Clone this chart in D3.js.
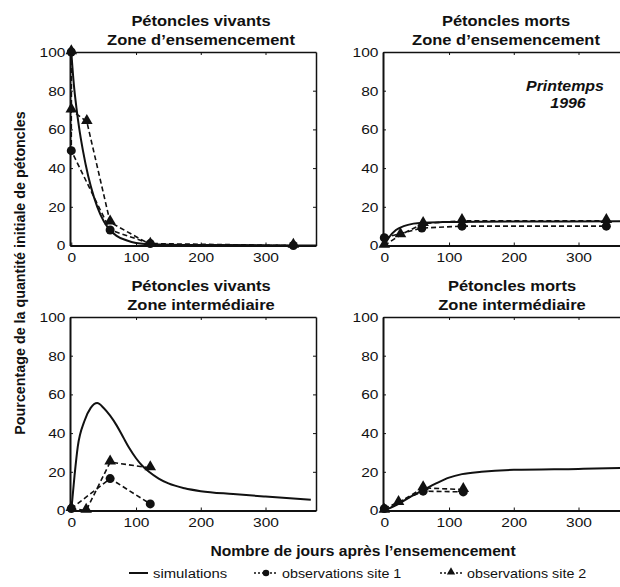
<!DOCTYPE html>
<html>
<head>
<meta charset="utf-8">
<script src="https://cdn.jsdelivr.net/npm/d3@7"></script>
<style>
  body { margin: 0; background: #fff; }
  svg { display: block; font-family: "Liberation Sans", Arial, sans-serif; }
</style>
</head>
<body>
<div id="chart"></div>
<script>
const W = 620, H = 587;

// [jour, pourcentage]
const vivEnsSim = [[0,100],[4,83],[8,71],[12,61],[18,49],[26,36],[35,25],[45,16],[57,9],[70,5],[85,2.7],[100,1.3],[130,0.5],[200,0.2],[378,0]];
const vivEnsSite1 = [[0,100],[0,49],[60,8],[122,1],[343,0]];
const vivEnsSite2 = [[0,100],[0,70],[24,64],[60,12],[122,0.5],[343,0]];

const mortEnsSim = [[0,0],[8,4.5],[18,8],[30,10],[45,11.3],[60,11.8],[90,12.1],[150,12.3],[250,12.4],[378,12.5]];
const mortEnsSite1 = [[0,4],[58,9],[120,10],[343,10]];
const mortEnsSite2 = [[0,0],[25,5.5],[60,11.3],[120,12.8],[343,12.8]];

const vivIntSim = [[0,0],[5,18],[10,33],[20,46],[30,53],[40,55.5],[50,53],[60,49],[70,44],[80,38],[90,32],[100,27],[110,23],[120,20],[135,16.5],[150,14],[175,11.5],[200,10],[250,8.5],[300,7.2],[370,5.5]];
const vivIntSite1 = [[0,1],[60,16.5],[122,3.4]];
const vivIntSite2 = [[0,1],[23,0],[60,25],[122,22]];

const mortIntSim = [[0,0],[20,3],[40,7],[60,10.5],[80,14],[100,17],[120,18.8],[150,20],[200,21],[300,21.5],[378,22]];
const mortIntSite1 = [[0,1],[60,10],[122,9.6]];
const mortIntSite2 = [[0,0],[22,4],[60,11.7],[122,10.8]];

const xTicks = [0, 100, 200, 300];
const yTicks = [0, 20, 40, 60, 80, 100];

const panels = [
  { title: ["Pétoncles vivants", "Zone d\u2019ensemencement"], sim: vivEnsSim, s1: vivEnsSite1, s2: vivEnsSite2, col: 0, row: 0, tx: 201 },
  { title: ["Pétoncles morts", "Zone d\u2019ensemencement"], sim: mortEnsSim, s1: mortEnsSite1, s2: mortEnsSite2, col: 1, row: 0, tx: 506 },
  { title: ["Pétoncles vivants", "Zone intermédiaire"], sim: vivIntSim, s1: vivIntSite1, s2: vivIntSite2, col: 0, row: 1, tx: 201 },
  { title: ["Pétoncles morts", "Zone intermédiaire"], sim: mortIntSim, s1: mortIntSite1, s2: mortIntSite2, col: 1, row: 1, tx: 512 }
];

const colX = [70, 383], rowY = [52, 317];
const pw = 246, ph = 193.5;
const ink = "#111";

const svg = d3.select("#chart").append("svg")
  .attr("width", W).attr("height", H);

// the scanned figure is a little wider than tall, so text gets stretched in x
function wideText(parent, x, y, sx, str) {
  return parent.append("g")
    .attr("transform", `translate(${x},${y}) scale(${sx},1)`)
    .append("text").attr("fill", ink).text(str);
}

const tri = d3.symbol().type(d3.symbolTriangle).size(58);

panels.forEach(p => {
  const x0 = colX[p.col], y0 = rowY[p.row];
  const x = d3.scaleLinear().domain([-2, 378]).range([x0, x0 + pw]);
  const y = d3.scaleLinear().domain([0, 100]).range([y0 + ph, y0]);
  const g = svg.append("g");

  p.title.forEach((s, i) => {
    wideText(g, p.tx, y0 - 26 + i * 19, 1.1, s)
      .attr("text-anchor", "middle")
      .attr("font-weight", "bold")
      .attr("font-size", 15);
  });

  // axes with inward ticks
  g.append("g").attr("transform", `translate(0,${y0 + ph})`)
    .call(d3.axisBottom(x).tickValues(xTicks).tickSizeInner(-3).tickSizeOuter(0).tickPadding(7))
    .call(a => a.select(".domain").attr("stroke-width", 2));
  g.append("g").attr("transform", `translate(${x0},0)`)
    .call(d3.axisLeft(y).tickValues(yTicks).tickSizeInner(-3).tickSizeOuter(0).tickPadding(4))
    .call(a => a.select(".domain").attr("stroke-width", 2));
  g.append("g").attr("transform", `translate(0,${y0})`)
    .call(d3.axisTop(x).tickValues(xTicks.slice(1)).tickSizeInner(-3).tickSizeOuter(0).tickFormat(""))
    .call(a => a.select(".domain").attr("stroke-width", 1.5));
  g.append("g").attr("transform", `translate(${x0 + pw},0)`)
    .call(d3.axisRight(y).tickValues(yTicks.slice(1, -1)).tickSizeInner(-3).tickSizeOuter(0).tickFormat(""))
    .call(a => a.select(".domain").attr("stroke-width", 1.5));
  g.selectAll(".tick text")
    .attr("font-size", 13.5).attr("fill", ink)
    .attr("font-family", "Liberation Sans, Arial, sans-serif")
    .attr("transform", "scale(1.15,1)");
  g.selectAll(".domain, .tick line").attr("stroke", ink);

  const line = d3.line().x(d => x(d[0])).y(d => y(d[1]));

  g.append("path").datum(p.sim)
    .attr("d", line.curve(d3.curveMonotoneX))
    .attr("fill", "none").attr("stroke", ink).attr("stroke-width", 2);

  const obsLine = d3.line().x(d => x(d[0])).y(d => y(d[1]));
  [p.s1, p.s2].forEach(s => {
    g.append("path").datum(s)
      .attr("d", obsLine)
      .attr("fill", "none").attr("stroke", ink)
      .attr("stroke-width", 1.6).attr("stroke-dasharray", "5,3");
  });

  g.selectAll("circle.s1").data(p.s1).join("circle")
    .attr("class", "s1")
    .attr("cx", d => x(d[0])).attr("cy", d => y(d[1]))
    .attr("r", 4.5).attr("fill", ink);

  g.selectAll("path.s2").data(p.s2).join("path")
    .attr("class", "s2")
    .attr("transform", d => `translate(${x(d[0])},${y(d[1]) - 1})`)
    .attr("d", tri).attr("fill", ink);
});

// season note
[["Printemps", 565, 91], ["1996", 568, 108]].forEach(([s, nx, ny]) => {
  wideText(svg, nx, ny, 1.1, s)
    .attr("text-anchor", "middle")
    .attr("font-weight", "bold").attr("font-style", "italic")
    .attr("font-size", 14.5);
});

// axis labels
svg.append("text")
  .attr("transform", "translate(25,273) rotate(-90)")
  .attr("text-anchor", "middle")
  .attr("font-weight", "bold").attr("font-size", 14.3).attr("fill", ink)
  .text("Pourcentage de la quantité initiale de pétoncles");

wideText(svg, 363, 556, 1.1, "Nombre de jours après l\u2019ensemencement")
  .attr("text-anchor", "middle")
  .attr("font-weight", "bold").attr("font-size", 14.2);

// legend
const ly = 573;
svg.append("line").attr("x1", 129).attr("x2", 148).attr("y1", ly).attr("y2", ly)
  .attr("stroke", ink).attr("stroke-width", 2);
wideText(svg, 153, ly + 5, 1.1, "simulations").attr("font-size", 13.5);

svg.append("line").attr("x1", 254).attr("x2", 278).attr("y1", ly).attr("y2", ly)
  .attr("stroke", ink).attr("stroke-width", 1.5).attr("stroke-dasharray", "2,2");
svg.append("circle").attr("cx", 266).attr("cy", ly).attr("r", 3.3).attr("fill", ink);
wideText(svg, 282, ly + 5, 1.06, "observations site 1").attr("font-size", 13.5);

svg.append("line").attr("x1", 440).attr("x2", 462).attr("y1", ly).attr("y2", ly)
  .attr("stroke", ink).attr("stroke-width", 1.5).attr("stroke-dasharray", "2,2");
svg.append("path").attr("transform", `translate(451,${ly - 1})`)
  .attr("d", d3.symbol().type(d3.symbolTriangle).size(30)).attr("fill", ink);
wideText(svg, 467, ly + 5, 1.06, "observations site 2").attr("font-size", 13.5);
</script>
</body>
</html>
